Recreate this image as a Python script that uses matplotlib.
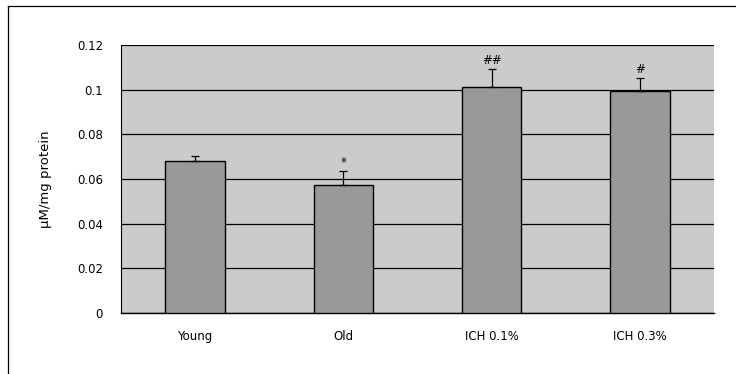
import matplotlib
matplotlib.use("Agg")
import matplotlib.pyplot as plt
import numpy as np
from matplotlib.lines import Line2D

categories = ["Young", "Old", "ICH 0.1%", "ICH 0.3%"]
values = [0.068, 0.0573, 0.101, 0.0995]
errors = [0.0025, 0.0062, 0.0083, 0.0057]
marks = ["", "*", "##", "#"]
yticks = [0, 0.02, 0.04, 0.06, 0.08, 0.1, 0.12]
ytick_labels = ["0", "0.02", "0.04", "0.06", "0.08", "0.1", "0.12"]

plt.rcParams['font.family'] = ['DejaVu Sans']

fig = plt.figure(figsize=(7.36, 3.74), dpi=100)
fig.patch.set_facecolor("white")
ax = fig.add_axes([121/736, 61/374, 593/736, 268/374])
ax.set_facecolor("#cbcbcb")

x = np.arange(len(categories))
ax.bar(x, values, width=0.4, color="#999999", edgecolor="black", linewidth=1.0, zorder=3)
ax.errorbar(x, values, yerr=[np.zeros(len(errors)), errors], fmt="none",
            ecolor="black", elinewidth=0.9, capsize=3, capthick=0.9, zorder=4)
for xi, v, e, m in zip(x, values, errors, marks):
    if m:
        ax.text(xi, v + e + 0.0008, m, ha="center", va="bottom", fontsize=8.5, zorder=5)

ax.set_xlim(-0.5, len(categories) - 0.5)
ax.set_ylim(0, 0.12)
ax.set_yticks(yticks)
ax.set_yticklabels(ytick_labels, fontsize=8.5)
ax.set_xticks(x)
ax.set_xticklabels(categories, fontsize=8.5)
ax.tick_params(axis="y", length=0, pad=13)
ax.tick_params(axis="x", length=0, pad=12)
ax.grid(axis="y", color="black", linewidth=0.9, zorder=1)
for s in ax.spines.values():
    s.set_visible(False)
ax.spines["bottom"].set_visible(True)
ax.spines["bottom"].set_linewidth(1.0)
ax.spines["left"].set_visible(True)
ax.spines["left"].set_linewidth(0.8)
ax.set_ylabel("μM/mg protein", fontsize=9.5)
ax.yaxis.set_label_coords(-69/593, 0.5)

# outer frame lines (left and top)
fig.add_artist(Line2D([8/736, 8/736], [0, 1 - 6/374], transform=fig.transFigure, color="black", linewidth=0.9))
fig.add_artist(Line2D([8/736, 1], [1 - 6/374, 1 - 6/374], transform=fig.transFigure, color="black", linewidth=0.9))

fig.savefig("out.png", dpi=100)
